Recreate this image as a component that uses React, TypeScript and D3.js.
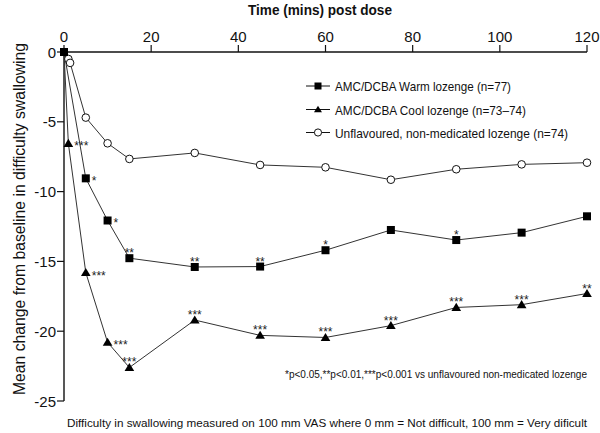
import React from "react";
import * as d3 from "d3";

const times = [0, 5, 10, 15, 30, 45, 60, 75, 90, 105, 120];
const warmValues = [0, -9.05, -12.07, -14.77, -15.4, -15.37, -14.2, -12.75, -13.47, -12.94, -11.77];
const warmSig = ["", "*", "*", "**", "**", "**", "*", "", "*", "", ""];
const warmSigPos = ["", "right", "right", "above", "above", "above", "above", "", "above", "", ""];

const coolTimes = [0, 1, 5, 10, 15, 30, 45, 60, 75, 90, 105, 120];
const coolValues = [0, -6.55, -15.8, -20.8, -22.6, -19.2, -20.3, -20.45, -19.6, -18.3, -18.1, -17.3];
const coolSig = ["", "***", "***", "***", "***", "***", "***", "***", "***", "***", "***", "**"];
const coolSigPos = ["", "right", "right", "right", "above", "above", "above", "above", "above", "above", "above", "above"];

const plainTimes = [0, 1, 1.4, 5, 10, 15, 30, 45, 60, 75, 90, 105, 120];
const plainValues = [0, -0.5, -0.78, -4.7, -6.54, -7.66, -7.23, -8.09, -8.26, -9.15, -8.4, -8.05, -7.93];

const xTicks = [0, 20, 40, 60, 80, 100, 120];
const yTicks = [0, -5, -10, -15, -20, -25];

const legendLabels = [
  "AMC/DCBA Warm lozenge (n=77)",
  "AMC/DCBA Cool lozenge (n=73\u201374)",
  "Unflavoured, non-medicated lozenge (n=74)",
];
const legendWidths = [176, 191, 233];

const W = 600;
const H = 433;
const M = { left: 64, right: 13, top: 52, bottom: 32 };
const SANS = "'Liberation Sans', Arial, sans-serif";

export default function App() {
  const x = d3.scaleLinear().domain([0, 120]).range([M.left, W - M.right]);
  const y = d3.scaleLinear().domain([0, -25]).range([M.top, H - M.bottom]);
  const line = d3
    .line<[number, number]>()
    .x((d) => x(d[0]))
    .y((d) => y(d[1]));

  const plainPts: [number, number][] = plainTimes.map((t, i) => [t, plainValues[i]]);
  const warmPts: [number, number][] = times.map((t, i) => [t, warmValues[i]]);
  const coolPts: [number, number][] = coolTimes.map((t, i) => [t, coolValues[i]]);

  const sq = 4;
  const tri = (cx: number, cy: number, s: number) =>
    `M${cx},${cy - s}L${cx + s * 1.05},${cy + s * 0.75}L${cx - s * 1.05},${cy + s * 0.75}Z`;

  const sigText = (
    pts: [number, number][],
    sig: string[],
    pos: string[],
    key: string
  ) =>
    pts.map((p, i) => {
      if (!sig[i]) return null;
      const cx = x(p[0]);
      const cy = y(p[1]);
      if (pos[i] === "right") {
        return (
          <text key={key + i} x={cx + 6} y={cy + 7} fontSize={12} fontFamily={SANS} fill="#222">
            {sig[i]}
          </text>
        );
      }
      return (
        <text key={key + i} x={cx} y={cy - 1} fontSize={12} fontFamily={SANS} fill="#222" textAnchor="middle">
          {sig[i]}
        </text>
      );
    });

  const legX = 306;
  const legY = [86, 109.5, 132.5];

  return (
    <svg width={W} height={H} style={{ position: "absolute", left: 0, top: 0, background: "#fff" }}>
      <rect x={0} y={0} width={W} height={H} fill="#fff" />
      {/* title */}
      <text x={248} y={15} fontSize={15.5} fontWeight="bold" fontFamily={SANS} fill="#111" textLength={144} lengthAdjust="spacingAndGlyphs">
        Time (mins) post dose
      </text>
      {/* x axis (top) */}
      <line x1={M.left} x2={W - M.right} y1={y(0)} y2={y(0)} stroke="#111" strokeWidth={1.4} />
      {xTicks.map((t) => (
        <g key={"xt" + t}>
          <line x1={x(t)} x2={x(t)} y1={y(0)} y2={y(0) - 7} stroke="#111" strokeWidth={1.2} />
          <text x={x(t)} y={42} textAnchor="middle" fontSize={15} fontFamily={SANS} fill="#111">
            {t}
          </text>
        </g>
      ))}
      {/* y axis */}
      <line x1={M.left} x2={M.left} y1={y(0)} y2={y(-25)} stroke="#111" strokeWidth={1.4} />
      {yTicks.map((t) => (
        <g key={"yt" + t}>
          <line x1={M.left - 7} x2={M.left} y1={y(t)} y2={y(t)} stroke="#111" strokeWidth={1.2} />
          <text x={M.left - 8} y={y(t) + 5.5} textAnchor="end" fontSize={15} fontFamily={SANS} fill="#111">
            {t}
          </text>
        </g>
      ))}
      <text
        transform={`translate(24.5,395) rotate(-90)`}
        fontSize={16}
        fontFamily={SANS}
        fill="#111"
        textLength={352}
        lengthAdjust="spacingAndGlyphs"
      >
        Mean change from baseline in difficulty swallowing
      </text>

      {/* lines */}
      <path d={line(plainPts) || ""} fill="none" stroke="#333" strokeWidth={1} />
      <path d={line(warmPts) || ""} fill="none" stroke="#333" strokeWidth={1} />
      <path d={line(coolPts) || ""} fill="none" stroke="#333" strokeWidth={1} />

      {/* markers */}
      {plainPts.slice(1).map((p, i) => (
        <circle key={"c" + i} cx={x(p[0])} cy={y(p[1])} r={3.8} fill="#fff" stroke="#111" strokeWidth={1} />
      ))}
      {coolPts.slice(1).map((p, i) => (
        <path key={"t" + i} d={tri(x(p[0]), y(p[1]), 4.6)} fill="#000" />
      ))}
      {warmPts.map((p, i) => (
        <rect key={"s" + i} x={x(p[0]) - sq} y={y(p[1]) - sq} width={sq * 2} height={sq * 2} fill="#000" />
      ))}

      {sigText(warmPts, warmSig, warmSigPos, "ws")}
      {sigText(coolPts, coolSig, coolSigPos, "cs")}

      {/* legend */}
      {legendLabels.map((lab, i) => (
        <g key={"lg" + i}>
          <line x1={legX} x2={legX + 24} y1={legY[i]} y2={legY[i]} stroke="#111" strokeWidth={1} />
          {i === 0 && <rect x={legX + 12 - 3.5} y={legY[i] - 3.5} width={7} height={7} fill="#000" />}
          {i === 1 && <path d={tri(legX + 12, legY[i], 3.8)} fill="#000" />}
          {i === 2 && <circle cx={legX + 12} cy={legY[i]} r={3.6} fill="#fff" stroke="#111" strokeWidth={1} />}
          <text
            x={legX + 29}
            y={legY[i] + 5}
            fontSize={13.5}
            fontFamily={SANS}
            fill="#111"
            textLength={legendWidths[i]}
            lengthAdjust="spacingAndGlyphs"
          >
            {lab}
          </text>
        </g>
      ))}

      {/* notes */}
      <text x={285} y={378} fontSize={10.4} fontFamily={SANS} fill="#111" textLength={302} lengthAdjust="spacingAndGlyphs">
        *p&lt;0.05,**p&lt;0.01,***p&lt;0.001 vs unflavoured non-medicated lozenge
      </text>
      <text x={67} y={427} fontSize={11.3} fontFamily={SANS} fill="#111" textLength={520} lengthAdjust="spacingAndGlyphs">
        Difficulty in swallowing measured on 100 mm VAS where 0 mm = Not difficult, 100 mm = Very dificult
      </text>
    </svg>
  );
}
